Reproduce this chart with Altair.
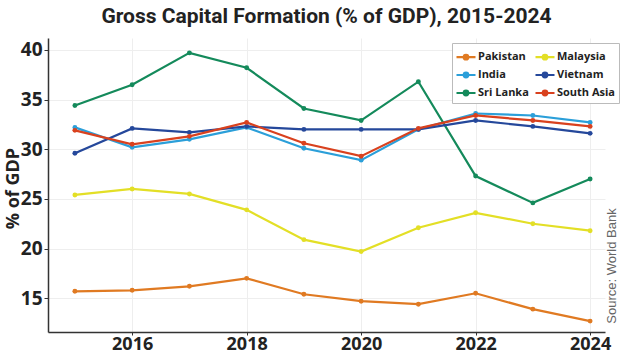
import altair as alt
import pandas as pd

years = list(range(2015, 2025))
pakistan = [15.7, 15.8, 16.2, 17.0, 15.4, 14.7, 14.4, 15.5, 13.9, 12.7]
india = [32.2, 30.2, 31.0, 32.2, 30.1, 28.9, 32.0, 33.6, 33.4, 32.7]
sri_lanka = [34.4, 36.5, 39.7, 38.2, 34.1, 32.9, 36.8, 27.3, 24.6, 27.0]
malaysia = [25.4, 26.0, 25.5, 23.9, 20.9, 19.7, 22.1, 23.6, 22.5, 21.8]
vietnam = [29.6, 32.1, 31.7, 32.3, 32.0, 32.0, 32.0, 32.9, 32.3, 31.6]
south_asia = [31.9, 30.5, 31.3, 32.7, 30.6, 29.3, 32.1, 33.4, 32.9, 32.3]

series_names = ["Pakistan", "India", "Sri Lanka", "Malaysia", "Vietnam", "South Asia"]
series_values = [pakistan, india, sri_lanka, malaysia, vietnam, south_asia]
series_colors = ["#e07a22", "#2b9fd9", "#148a5b", "#e3df26", "#25489b", "#d9411e"]

x_ticks = [2016, 2018, 2020, 2022, 2024]
y_ticks = [15, 20, 25, 30, 35, 40]

rows = []
for name, vals in zip(series_names, series_values):
    for yr, v in zip(years, vals):
        rows.append({"year": yr, "value": v, "country": name})
df = pd.DataFrame(rows)

sym = "M-1,0H1M-0.24,0A0.24,0.24,0,1,1,0.24,0A0.24,0.24,0,1,1,-0.24,0Z"

color = alt.Color(
    "country:N",
    scale=alt.Scale(domain=series_names, range=series_colors),
    legend=alt.Legend(
        title=None, orient="none", legendX=404, legendY=5, columns=2,
        symbolType=sym, symbolSize=361, symbolStrokeWidth=2.2,
        labelFont="Open Sans", labelFontWeight="bold", labelFontSize=11,
        labelColor="#222", fillColor="white", strokeColor="#bbbbbb",
        padding=3, rowPadding=-1, columnPadding=2, labelOffset=1,
    ),
)

x = alt.X(
    "year:Q",
    scale=alt.Scale(domain=[2014.53, 2024.26], nice=False, zero=False),
    axis=alt.Axis(
        values=x_ticks, format="d", title=None, labelFont="Open Sans",
        labelFontWeight="bold", labelFontSize=18, labelColor="#222",
        labelPadding=0, tickSize=3,
    ),
)
y = alt.Y(
    "value:Q",
    scale=alt.Scale(domain=[11.6, 41.2], nice=False, zero=False),
    axis=alt.Axis(
        values=y_ticks, title="% of GDP", labelFont="Open Sans",
        labelFontWeight="bold", labelFontSize=19, labelColor="#222",
        labelPadding=2, tickSize=4, titleFont="Open Sans",
        titleFontWeight="bold", titleFontSize=18, titleColor="#222",
        titleAngle=270, titleAlign="center", titleBaseline="middle",
        titleX=-35, titleY=150,
    ),
)

base = alt.Chart(df)
lines = base.mark_line(strokeWidth=2.2).encode(x=x, y=y, color=color)
points = base.mark_circle(size=24, opacity=1).encode(x=x, y=y, color=color)

src = alt.Chart(pd.DataFrame({"t": ["Source: World Bank"]})).mark_text(
    angle=270, font="Liberation Sans", fontSize=13, color="#666",
    baseline="middle", align="center",
).encode(text="t:N", x=alt.value(564), y=alt.value(228))

chart = alt.layer(lines, points, src).properties(
    width=557, height=294,
    title=alt.TitleParams(
        "Gross Capital Formation (% of GDP), 2015-2024", font="Roboto",
        fontSize=21, fontWeight="bold", color="#222", anchor="middle", offset=11,
    ),
    autosize=alt.AutoSizeParams(type="none"),
    padding={"left": 48, "top": 38, "right": 19, "bottom": 21},
).configure_view(stroke=None).configure_axis(
    domainColor="#333", domainWidth=1.5, tickColor="#333",
    gridColor="#eeeeee", gridWidth=1,
)

chart.save("out.html", embed_options={"renderer": "svg", "actions": False})
